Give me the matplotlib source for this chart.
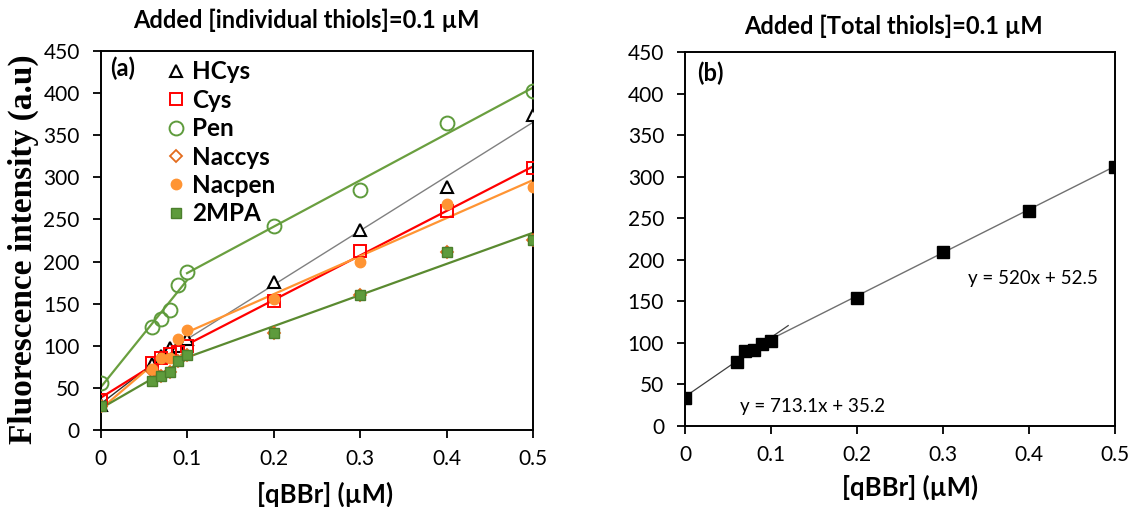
import numpy as np
import matplotlib
matplotlib.use('Agg')
import matplotlib.pyplot as plt

plt.rcParams['font.family'] = ['Lato', 'DejaVu Sans']

# panel (a): individual thiols
qbbr = [0, 0.06, 0.07, 0.08, 0.09, 0.1, 0.2, 0.3, 0.4, 0.5]
hcys = [30, 78, 88, 97, 100, 108, 176, 237, 288, 374]
cys = [36, 80, 86, 90, 93, 100, 153, 212, 260, 311]
pen = [56, 122, 132, 142, 172, 188, 242, 285, 365, 402]
naccys = [28, 70, 64, 69, 82, 89, 115, 160, 211, 226]
nacpen = [28, 73, 85, 86, 108, 119, 156, 200, 268, 289]
mpa2 = [28, 58, 64, 69, 82, 89, 115, 160, 211, 226]

# panel (b): total thiols
qbbr_b = [0, 0.06, 0.07, 0.08, 0.09, 0.1, 0.2, 0.3, 0.4, 0.5]
total = [34, 77, 90, 92, 99, 102, 154, 209, 259, 311]
fit_low = (713.1, 35.2)
fit_high = (520, 52.5)

fig = plt.figure(figsize=(11.32, 5.07), dpi=100)
ax1 = fig.add_axes([0.0888, 0.1519, 0.3821, 0.7475])
ax2 = fig.add_axes([0.6051, 0.1598, 0.3799, 0.7377])


def seg_fit(ax, x, y, lo, hi, color, lw):
    x = np.array(x)
    y = np.array(y)
    m = (x >= lo) & (x <= hi)
    k, b = np.polyfit(x[m], y[m], 1)
    xs = np.array([lo, hi])
    ax.plot(xs, k * xs + b, color=color, lw=lw, zorder=2)


# fit lines (two segments each)
seg_fit(ax1, qbbr, pen, 0, 0.1, '#6A9F3F', 1.6)
seg_fit(ax1, qbbr, pen, 0.1, 0.5, '#6A9F3F', 1.6)
seg_fit(ax1, qbbr, hcys, 0, 0.1, '#303030', 1.0)
seg_fit(ax1, qbbr, hcys, 0.1, 0.5, '#808080', 1.0)
seg_fit(ax1, qbbr, cys, 0, 0.1, '#FF0000', 1.6)
seg_fit(ax1, qbbr, cys, 0.1, 0.5, '#FF0000', 1.6)
seg_fit(ax1, qbbr, nacpen, 0, 0.1, '#FF9433', 1.6)
seg_fit(ax1, qbbr, nacpen, 0.1, 0.5, '#FF9433', 1.6)
seg_fit(ax1, qbbr, mpa2, 0, 0.1, '#5A8A30', 1.6)
seg_fit(ax1, qbbr, mpa2, 0.1, 0.5, '#5A8A30', 1.6)

ax1.plot(qbbr, hcys, ls='none', marker='^', ms=9, mfc='white', mec='black', mew=1.5, label='HCys', zorder=3)
ax1.plot(qbbr, cys, ls='none', marker='s', ms=9, mfc='none', mec='#FF0000', mew=1.4, label='Cys', zorder=3)
ax1.plot(qbbr, pen, ls='none', marker='o', ms=10, mfc='none', mec='#5E9B3C', mew=1.4, label='Pen', zorder=3)
ax1.plot(qbbr, naccys, ls='none', marker='D', ms=6, mfc='white', mec='#E36C1D', mew=1.3, label='Naccys', zorder=3)
ax1.plot(qbbr, nacpen, ls='none', marker='o', ms=7.5, mfc='#FF9433', mec='#FF9433', label='Nacpen', zorder=4)
ax1.plot(qbbr, mpa2, ls='none', marker='s', ms=7, mfc='#5E9B3C', mec='#4B7F2C', mew=1.0, label='2MPA', zorder=5)

ax1.legend(loc='upper left', bbox_to_anchor=(0.15, 0.975), frameon=False, borderpad=0,
           borderaxespad=0, handlelength=0.9, handletextpad=0.2, labelspacing=0.22,
           prop={'weight': 'bold', 'size': 17.5})

# panel b
xl = np.array([0, 0.12])
ax2.plot(xl, fit_low[0] * xl + fit_low[1], color='#404040', lw=0.9, zorder=2)
xh = np.array([0.1, 0.5])
ax2.plot(xh, fit_high[0] * xh + fit_high[1], color='#707070', lw=1.0, zorder=2)
ax2.plot(qbbr_b, total, ls='none', marker='s', ms=9, color='black', zorder=3)
ax2.text(0.405, 177, 'y = 520x + 52.5', fontsize=13.5, ha='center', va='center')
ax2.text(0.148, 23, 'y = 713.1x + 35.2', fontsize=13.5, ha='center', va='center')

for ax in (ax1, ax2):
    ax.set_xlim(0, 0.5)
    ax.set_ylim(0, 450)
    ax.set_xticks([0, 0.1, 0.2, 0.3, 0.4, 0.5])
    ax.set_xticklabels(['0', '0.1', '0.2', '0.3', '0.4', '0.5'])
    ax.set_yticks(range(0, 451, 50))
    ax.tick_params(axis='both', direction='out', length=6, width=1.3, labelsize=15)
    ax.tick_params(axis='y', pad=9)
    ax.tick_params(axis='x', pad=8)
    for s in ax.spines.values():
        s.set_linewidth(1.4)

ax1.text(0.022, 0.955, '(a)', transform=ax1.transAxes, fontsize=17, fontweight='bold', va='center')
ax2.text(0.028, 0.944, '(b)', transform=ax2.transAxes, fontsize=17, fontweight='bold', va='center')

fig.text(0.2703, 0.9606, 'Added [individual thiols]=0.1 µM', ha='center', va='center', fontsize=17, fontweight='bold')
fig.text(0.7889, 0.9487, 'Added [Total thiols]=0.1 µM', ha='center', va='center', fontsize=17, fontweight='bold')
fig.text(325 / 1132, 1 - 494 / 507, '[qBBr] (µM)', ha='center', va='center', fontsize=18.5, fontweight='bold')
fig.text(910 / 1132, 1 - 487 / 507, '[qBBr] (µM)', ha='center', va='center', fontsize=18.5, fontweight='bold')
fig.text(23 / 1132, 1 - 249 / 507, 'Fluorescence intensity (a.u)', rotation=90, ha='center', va='center',
         fontsize=24, fontweight='bold', family=['Liberation Serif', 'DejaVu Serif'])

fig.savefig('out.png', dpi=100)
